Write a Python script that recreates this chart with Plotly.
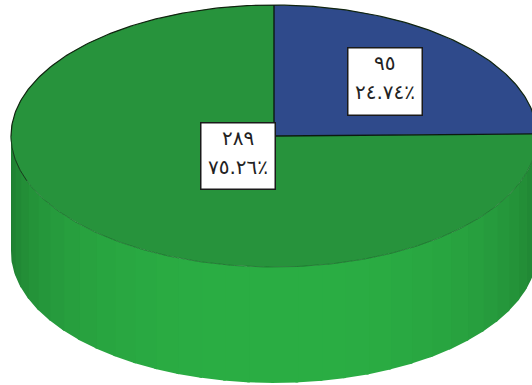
import numpy as np
import plotly.graph_objects as go

# Values of the two slices and their label lines
counts = [95, 289]
count_labels = ["٩٥", "٢٨٩"]
percent_labels = ["٢٤.٧٤٪", "٧٥.٢٦٪"]
slice_colors = ["#2f4a8b", "#27933c"]

# Pie geometry, in page pixels
cx, cy = 274, 136
rx, ry = 263, 131
depth = 116
n_strips = 34


def rim(start, end, n=200):
    # clockwise from 12 o'clock, angles in degrees
    a = np.radians(np.linspace(start, end, n))
    return cx + rx * np.sin(a), cy - ry * np.cos(a)


def side_color(frac):
    # frac: 0 at the centre of the front, 1 at the edges
    t = min(1, frac ** 2.2)
    dark = np.array([30, 122, 48])
    light = np.array([43, 174, 68])
    c = light + (dark - light) * t
    return "rgb(%d,%d,%d)" % tuple(c)


def add_line(xs, ys, color, width):
    fig.add_trace(go.Scatter(x=xs, y=ys, mode="lines", hoverinfo="skip",
                             line=dict(color=color, width=width)))


fig = go.Figure()

# Front wall, drawn as vertical strips
edges = np.linspace(90, 270, n_strips + 1)
for a0, a1 in zip(edges[:-1], edges[1:]):
    x, y = rim(a0, a1 + 0.6, 12)
    xs = np.concatenate([x, x[::-1]])
    ys = np.concatenate([y, y[::-1] + depth])
    frac = abs((a0 + a1) / 2 - 180) / 90
    fig.add_trace(go.Scatter(x=xs, y=ys, mode="lines", fill="toself",
                             fillcolor=side_color(frac), line=dict(width=0),
                             hoverinfo="skip"))

# Top face, one wedge per value
start = 0
total = sum(counts)
spokes = []
for value, color in zip(counts, slice_colors):
    sweep = 360 * value / total
    x, y = rim(start, start + sweep)
    xs = np.concatenate([[cx], x, [cx]])
    ys = np.concatenate([[cy], y, [cy]])
    fig.add_trace(go.Scatter(x=xs, y=ys, mode="lines", fill="toself",
                             fillcolor=color, line=dict(width=0),
                             hoverinfo="skip"))
    spokes.append((x[0], y[0]))
    start += sweep

# Rim outline: dark along the back, fading out along the front
x, y = rim(-90, 90)
add_line(x, y, "#10240f", 1.2)
x, y = rim(90, 270)
add_line(x, y, "#1c6e2c", 0.8)
x, y = rim(250, 270, 40)
add_line(x, y, "#16401c", 1)

# Slice borders from the centre
for sx, sy in spokes:
    add_line([cx, sx], [cy, sy], "#0c1a10", 1.4)

# Label boxes: centre and size, then the two text rows
boxes = [(384.5, 81, 73, 66), (237.5, 155.5, 73, 65)]
for i in range(len(counts)):
    bx, by, bw, bh = boxes[i]
    fig.add_annotation(x=bx, y=by, xref="x", yref="y", text=" ",
                       showarrow=False, width=bw - 2, height=bh - 2,
                       bgcolor="white", bordercolor="#1a1a1a", borderwidth=1.5)
    rows = ["\u202d" + count_labels[i] + "\u202c", "\u202d" + percent_labels[i] + "\u202c"]
    for row, dy in zip(rows, [-18, 11]):
        fig.add_annotation(x=bx, y=by + dy, xref="x", yref="y", text=row,
                           showarrow=False,
                           font=dict(family="DejaVu Sans", size=20, color="#222222"))

fig.update_layout(width=532, height=385, margin=dict(l=0, r=0, t=0, b=0),
                  paper_bgcolor="white", plot_bgcolor="white", showlegend=False)
fig.update_xaxes(range=[0, 532], visible=False, fixedrange=True)
fig.update_yaxes(range=[385, 0], visible=False, fixedrange=True)

fig.write_html("out.html", config={"displayModeBar": False},
               post_script="document.body.style.margin='0';document.body.style.overflow='hidden';")
